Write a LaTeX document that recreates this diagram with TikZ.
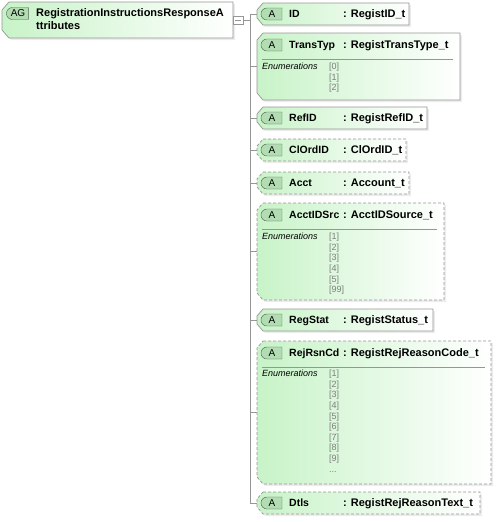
\documentclass[tikz,border=0pt]{standalone}
\usepackage{fontspec}
\setmainfont{Liberation Sans}
\usetikzlibrary{shapes.misc, shadows}
\tikzset{>=stealth}
\definecolor{boxline}{RGB}{150,150,150}
\definecolor{boxgreen}{RGB}{200,243,200}
\definecolor{tagfill}{RGB}{178,220,178}
\definecolor{tagline}{RGB}{85,95,85}
\definecolor{enumgray}{RGB}{125,125,125}
\definecolor{connline}{RGB}{150,150,150}
\tikzset{
  attr/.style={rectangle, inner sep=0pt, outer sep=0pt, anchor=west},
  frame/.style={left color=boxgreen, right color=white,
    drop shadow={shadow xshift=2pt, shadow yshift=-2pt, fill=black!15}},
  border/.style={draw=boxline, line width=0.7pt},
  optborder/.style={border, dash pattern=on 3pt off 2pt},
  tag/.style={rounded rectangle, rounded rectangle right arc=none, draw=tagline, fill=tagfill,
    minimum width=21pt, minimum height=12pt, inner sep=0pt, font=\fontsize{10}{10}\selectfont},
  attrname/.style={anchor=west, inner sep=0pt, text height=8pt, text depth=2pt,
    font=\fontsize{10.5}{13}\selectfont\bfseries},
  attrtype/.style={attrname, font=\fontsize{11}{13}\selectfont\bfseries},
  grouptext/.style={anchor=north west, inner sep=0pt, align=left,
    font=\fontsize{11}{12.5}\selectfont\bfseries},
  enumlabel/.style={anchor=north west, inner sep=0pt, font=\fontsize{9}{10.6}\selectfont\itshape},
  enumvals/.style={anchor=north west, inner sep=0pt, align=left, text=enumgray,
    font=\fontsize{9}{10.6}\selectfont},
  expander/.style={draw=boxline, fill=white, minimum width=10pt, minimum height=8pt, inner sep=0pt},
  conn/.style={draw=connline, line width=0.6pt}
}
% box outline with cut left corners round a named node
\newcommand\attrpath[2]{([xshift=#1]#2.north west) -- (#2.north east)
  -- (#2.south east) -- ([xshift=#1]#2.south west) -- ([yshift=#1+1pt]#2.south west)
  -- ([yshift=-#1-1pt]#2.north west) -- cycle}
\newcommand\attrframe[3][6pt]{\path[frame] \attrpath{#1}{#2}; \path[#3] \attrpath{#1}{#2};}
\begin{document}
\begin{tikzpicture}[x=1pt, y=-1pt]
    \useasboundingbox (0,0) rectangle (498,522);
    % attribute group
    \node[attr, minimum width=231pt, minimum height=36pt] (ag) at (2,20) {};
    \attrframe[7pt]{ag}{border}
    \node[tag, minimum width=22pt] (agtag) at (18,13.5) {AG};
    \node[grouptext] (agname) at (36,8.6) {RegistrationInstructionsResponseA\\ttributes};
    \node[expander] (expand) at (238,20) {};
    \draw[connline] ([xshift=2pt]expand.west) -- ([xshift=-2pt]expand.east);
    \coordinate (trunk) at (250,14);
    % attributes
    \node[attr, minimum width=152pt, minimum height=22pt] (id) at (257,14) {};
    \attrframe{id}{border}
    \node[tag] (idtag) at (272,14) {A};
    \node[attrname] (idname) at (289,14) {ID};
    \node[attrtype] (idtype) at (343,14) {: RegistID\_t};
    \node[attr, minimum width=203pt, minimum height=67pt] (transtyp) at (257,66.5) {};
    \attrframe{transtyp}{border}
    \node[tag] (transtyptag) at (272,45) {A};
    \node[attrname] (transtypname) at (289,45) {TransTyp};
    \node[attrtype] (transtyptype) at (343,45) {: RegistTransType\_t};
    \draw[connline] (262,59) -- (453,59);
    \node[enumlabel] (transtyplabel) at (262,63) {Enumerations};
    \node[enumvals] (transtypvals) at (329,63) {{[0]}\\{[1]}\\{[2]}};
    \node[attr, minimum width=170pt, minimum height=22pt] (refid) at (257,118) {};
    \attrframe{refid}{border}
    \node[tag] (refidtag) at (272,118) {A};
    \node[attrname] (refidname) at (289,118) {RefID};
    \node[attrtype] (refidtype) at (343,118) {: RegistRefID\_t};
    \node[attr, minimum width=149pt, minimum height=22pt] (clordid) at (257,150) {};
    \attrframe{clordid}{optborder}
    \node[tag] (clordidtag) at (272,150) {A};
    \node[attrname] (clordidname) at (289,150) {ClOrdID};
    \node[attrtype] (clordidtype) at (343,150) {: ClOrdID\_t};
    \node[attr, minimum width=152pt, minimum height=22pt] (acct) at (257,183) {};
    \attrframe{acct}{optborder}
    \node[tag] (accttag) at (272,183) {A};
    \node[attrname] (acctname) at (289,183) {Acct};
    \node[attrtype] (accttype) at (343,183) {: Account\_t};
    \node[attr, minimum width=187pt, minimum height=97pt] (acctidsrc) at (257,251.5) {};
    \attrframe{acctidsrc}{optborder}
    \node[tag] (acctidsrctag) at (272,215) {A};
    \node[attrname] (acctidsrcname) at (289,215) {AcctIDSrc};
    \node[attrtype] (acctidsrctype) at (343,215) {: AcctIDSource\_t};
    \draw[connline] (262,229) -- (437,229);
    \node[enumlabel] (acctidsrclabel) at (262,233) {Enumerations};
    \node[enumvals] (acctidsrcvals) at (329,233) {{[1]}\\{[2]}\\{[3]}\\{[4]}\\{[5]}\\{[99]}};
    \node[attr, minimum width=176pt, minimum height=22pt] (regstat) at (257,320) {};
    \attrframe{regstat}{border}
    \node[tag] (regstattag) at (272,320) {A};
    \node[attrname] (regstatname) at (289,320) {RegStat};
    \node[attrtype] (regstattype) at (343,320) {: RegistStatus\_t};
    \node[attr, minimum width=234pt, minimum height=143pt] (rejrsncd) at (257,412.5) {};
    \attrframe{rejrsncd}{optborder}
    \node[tag] (rejrsncdtag) at (272,353) {A};
    \node[attrname] (rejrsncdname) at (289,353) {RejRsnCd};
    \node[attrtype] (rejrsncdtype) at (343,353) {: RegistRejReasonCode\_t};
    \draw[connline] (262,367) -- (485,367);
    \node[enumlabel] (rejrsncdlabel) at (262,370) {Enumerations};
    \node[enumvals] (rejrsncdvals) at (329,370)
      {{[1]}\\{[2]}\\{[3]}\\{[4]}\\{[5]}\\{[6]}\\{[7]}\\{[8]}\\{[9]}\\...};
    \node[attr, minimum width=223pt, minimum height=22pt] (dtls) at (257,503) {};
    \attrframe{dtls}{optborder}
    \node[tag] (dtlstag) at (272,503) {A};
    \node[attrname] (dtlsname) at (289,503) {Dtls};
    \node[attrtype] (dtlstype) at (343,503) {: RegistRejReasonText\_t};
    % connectors
    \draw[conn] (expand.east) -- (trunk |- expand.east);
    \draw[conn] (trunk) -- (trunk |- dtls.west);
    \draw[conn] (trunk) -- (id.west) (trunk |- transtyp.west) -- (transtyp.west)
      (trunk |- refid.west) -- (refid.west) (trunk |- clordid.west) -- (clordid.west)
      (trunk |- acct.west) -- (acct.west) (trunk |- acctidsrc.west) -- (acctidsrc.west)
      (trunk |- regstat.west) -- (regstat.west) (trunk |- rejrsncd.west) -- (rejrsncd.west)
      (trunk |- dtls.west) -- (dtls.west);
\end{tikzpicture}
\end{document}
